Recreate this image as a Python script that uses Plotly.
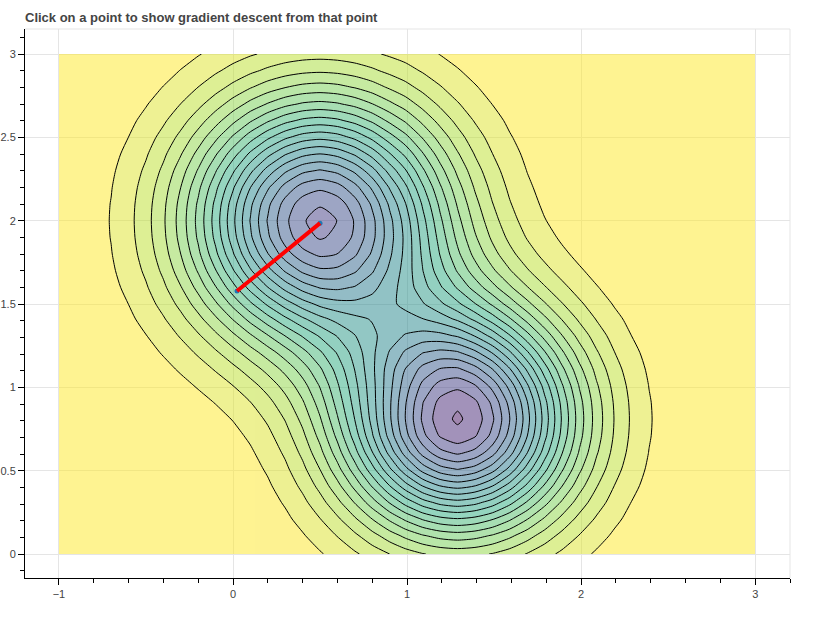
import plotly.graph_objects as go

title_text = "Click on a point to show gradient descent from that point"

# Grid nodes in data units
grid_x = [-1, -0.9, -0.8, -0.7, -0.6, -0.5, -0.4, -0.3, -0.2, -0.1, 0, 0.1, 0.2, 0.3, 0.4, 0.5, 0.6, 0.7, 0.8, 0.9,
          0.99, 1.09, 1.19, 1.29, 1.39, 1.49, 1.59, 1.69, 1.79, 1.89, 1.99, 2.09, 2.19, 2.29, 2.39, 2.49, 2.59, 2.69, 2.79, 2.89, 3]
grid_y = [0, 0.11, 0.21, 0.31, 0.41, 0.51, 0.61, 0.71, 0.81, 0.91, 1.01, 1.11, 1.21, 1.31, 1.41,
          1.5, 1.6, 1.7, 1.8, 1.9, 2.0, 2.1, 2.2, 2.3, 2.4, 2.5, 2.6, 2.7, 2.8, 2.9, 3.0]

# Cross-sections of the upper and lower wells, in contour-level units, read from where the rings cross
upper_well_x = [0.235, 0.414, 0.704, 1.149, 1.804, 2.722, 3.954, 5.517, 7.403, 9.553, 11.85, 14.14, 16.15, 17.8, 18.9, 19.3,
                18.85, 17.7, 16.0, 13.9, 12.08, 9.78, 7.61, 5.69, 4.09, 2.83, 1.88, 1.20, 0.741, 0.438, 0.249, 0.136,
                0.072, 0.036, 0.018, 0.008, 0.003, 0.001, 0, 0, 0]
upper_well_y = [0.00039, 0.00091, 0.00187, 0.0037, 0.00703, 0.01286, 0.0226, 0.0383, 0.0622, 0.0973, 0.1463, 0.2116, 0.2941, 0.3932, 0.5054,
                0.6126, 0.7307, 0.8382, 0.9246, 0.9806, 1, 0.9806, 0.9246, 0.8382, 0.7307, 0.6126, 0.4937, 0.3826, 0.2851, 0.2043, 0.1407]
lower_well_x = [0, 0, 0.001, 0.002, 0.004, 0.010, 0.024, 0.052, 0.107, 0.213, 0.403, 0.727, 1.253, 2.054, 3.216, 4.798,
                6.822, 9.256, 11.97, 14.76, 17.11, 19.28, 20.70, 21.27, 20.70, 19.28, 17.11, 14.48, 11.69, 9.00, 6.60, 4.62,
                3.08, 1.96, 1.19, 0.687, 0.379, 0.199, 0.100, 0.048, 0.020]
lower_well_y = [0.2097, 0.3114, 0.4244, 0.5515, 0.6832, 0.8071, 0.9092, 0.9765, 1, 0.9765, 0.9092, 0.8071, 0.6832, 0.5515, 0.4244,
                0.3218, 0.2263, 0.1517, 0.0969, 0.0591, 0.0343, 0.019, 0.01005, 0.00506, 0.00243, 0.00111, 0.00049, 0.0002, 0.00008, 0.00003, 0.00001]
# The rings around the lower well stay concentric: the upper well's tail fades out there
overlap_x = [0, 0, 0, 0, 0, 0, 0, 0, 0, 0, 0, 0, 0, 0, 0, 0,
             0, 3.6, 8.1, 11.3, 12.08, 9.78, 7.61, 5.69, 4.09, 2.83, 1.88, 1.20, 0.741, 0.438, 0.249, 0.136,
             0.072, 0.036, 0.018, 0.008, 0.003, 0.001, 0, 0, 0]
overlap_y = [0, 0, 0, 0, 0.007, 0.0129, 0.0226, 0.0383, 0.0622, 0.073, 0.0585, 0.021, 0, 0, 0,
             0, 0, 0, 0, 0, 0, 0, 0, 0, 0, 0, 0, 0, 0, 0, 0]
base_level = -1.1

band_positions = [0, 0.0476, 0.095, 0.143, 0.238, 0.429, 0.619, 0.714, 0.81, 0.857, 0.905, 0.952, 1]
band_colors = ["#fde725", "#dde328", "#bcdf2b", "#a6db35", "#76d053", "#2cac80", "#25868d", "#2d718e",
               "#37598c", "#3c4d8a", "#423d84", "#482878", "#450f61"]

path_x = [0.023, 0.5]
path_y = [1.578, 1.985]

x_range = [-1.195, 3.2]
y_range = [-0.144, 3.15]

levels_z = [[ux * uy + lx * ly - ox * oy + base_level
             for ux, lx, ox in zip(upper_well_x, lower_well_x, overlap_x)]
            for uy, ly, oy in zip(upper_well_y, lower_well_y, overlap_y)]

fig = go.Figure()
fig.add_trace(go.Contour(
    x=grid_x, y=grid_y, z=levels_z,
    colorscale=[[p, c] for p, c in zip(band_positions, band_colors)], opacity=0.5, showscale=False,
    contours=dict(start=0, end=20, size=1, coloring="fill", showlines=False),
    line=dict(smoothing=0.7, width=0), hoverinfo="skip",
))
fig.add_trace(go.Contour(
    x=grid_x, y=grid_y, z=levels_z, showscale=False,
    contours=dict(start=0, end=20, size=1, coloring="none", showlines=True),
    line=dict(smoothing=0.7, width=1, color="black"), hoverinfo="skip",
))
fig.add_trace(go.Scatter(x=path_x, y=path_y, mode="markers",
                         marker=dict(color="#1f77b4", size=5), hoverinfo="skip"))
fig.add_trace(go.Scatter(x=path_x, y=path_y, mode="lines",
                         line=dict(color="red", width=4), hoverinfo="skip"))

tick_font = dict(family="Liberation Sans", size=11, color="#444444")
fig.update_layout(
    width=834, height=632, autosize=False, showlegend=False,
    paper_bgcolor="white", plot_bgcolor="white",
    margin=dict(l=25, r=44, t=29, b=54, pad=0),
    title=dict(text="<b>%s</b>" % title_text, x=25 / 834, xanchor="left", y=1 - 17.5 / 632, yanchor="middle",
               font=dict(family="Liberation Sans", size=13, color="#444444")),
    shapes=[
        dict(type="line", xref="paper", yref="paper", x0=0, x1=1, y0=1, y1=1, line=dict(color="#e5e5e5", width=1), layer="below"),
        dict(type="line", xref="paper", yref="paper", x0=1, x1=1, y0=0, y1=1, line=dict(color="#e5e5e5", width=1), layer="below"),
    ],
)
fig.update_xaxes(range=x_range, dtick=1, tick0=0, ticks="outside", ticklen=6, tickcolor="black", tickwidth=1,
                 showline=True, linecolor="black", linewidth=1, gridcolor="#e5e5e5", gridwidth=1, zeroline=False,
                 automargin=False, tickfont=tick_font,
                 minor=dict(dtick=0.2, tick0=0, ticks="outside", ticklen=4, tickcolor="black", showgrid=False))
fig.update_yaxes(range=y_range, dtick=0.5, tick0=0, ticks="outside", ticklen=6, tickcolor="black", tickwidth=1,
                 showline=True, linecolor="black", linewidth=1, gridcolor="#e5e5e5", gridwidth=1, zeroline=False,
                 automargin=False, tickfont=tick_font,
                 minor=dict(dtick=0.1, tick0=0, ticks="outside", ticklen=4, tickcolor="black", showgrid=False))

fig.write_html("out.html", post_script="document.body.style.margin='0';",
               config={"displayModeBar": False})
